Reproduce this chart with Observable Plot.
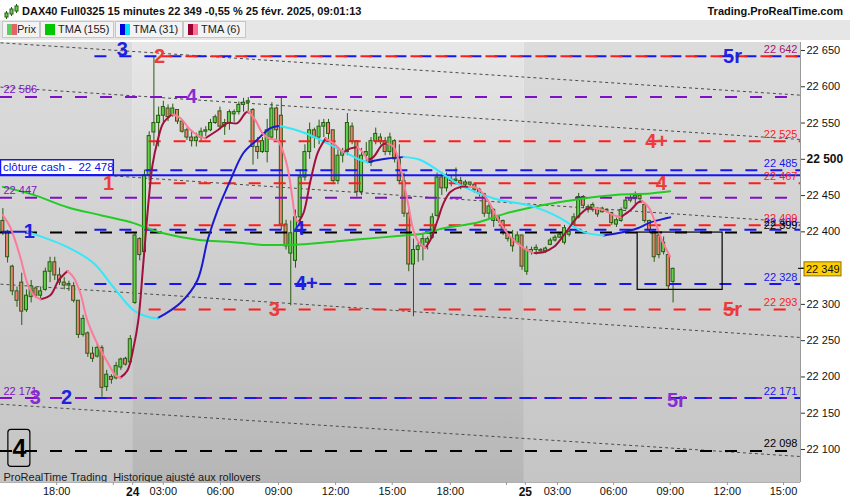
<!DOCTYPE html>
<html>
<head>
<meta charset="utf-8">
<script src="https://cdn.jsdelivr.net/npm/d3@7"></script>
<script src="https://cdn.jsdelivr.net/npm/@observablehq/plot@0.6"></script>
<style>
  body { margin: 0; background: #fff; font-family: "Liberation Sans", Arial, sans-serif; }
  #page { width: 850px; height: 500px; position: relative; overflow: hidden; }
  #top { height: 20px; position: relative; background: #fff; }
  #top .titre { position: absolute; left: 22px; top: 0; line-height: 22px; font-size: 11px; font-weight: bold; color: #111; }
  #top .site { position: absolute; right: 7px; top: 0; line-height: 22px; font-size: 11px; font-weight: bold; color: #111; }
  #top svg { position: absolute; left: 3px; top: 2px; }
  #leg { height: 20px; background: #e6e6e6; position: relative; }
  #leg .item { position: absolute; top: 1px; height: 17px; background: #f3f3f3; border: 1px solid #c6c6c6;
               box-sizing: border-box; font-size: 11px; color: #222; line-height: 15px; }
  #leg .sw { position: absolute; left: 4px; top: 2px; width: 10px; height: 11px; }
  #leg .lb { position: absolute; left: 17px; top: 0; white-space: nowrap; }
  #chart svg text.pre { white-space: pre; }
</style>
</head>
<body>
<div id="page">
  <div id="top">
    <svg width="16" height="18">
      <g stroke="#2a5a14" stroke-width="1">
        <line x1="3.5" y1="9" x2="3.5" y2="17"/><line x1="8.5" y1="5" x2="8.5" y2="14"/><line x1="13.5" y1="2" x2="13.5" y2="11"/>
      </g>
      <g fill="#5fd34a" stroke="#2a5a14" stroke-width="1">
        <rect x="2" y="11" width="3" height="4"/><rect x="7" y="7" width="3" height="5"/><rect x="12" y="4" width="3" height="5"/>
      </g>
    </svg>
    <span class="titre">DAX40 Full0325 15 minutes 22 349 -0,55 % 25 févr. 2025, 09:01:13</span>
    <span class="site">Trading.ProRealTime.com</span>
  </div>
  <div id="leg">
    <div class="item" style="left:2px;width:38px"><div class="sw" style="background:linear-gradient(to right,#5fcc5f 50%,#e06464 50%)"></div><span class="lb" style="left:14px">Prix</span></div>
    <div class="item" style="left:40px;width:74px"><div class="sw" style="background:#00c800"></div><span class="lb">TMA (155)</span></div>
    <div class="item" style="left:115px;width:68px"><div class="sw" style="background:linear-gradient(to right,#0000dd 50%,#00e0ff 50%)"></div><span class="lb">TMA (31)</span></div>
    <div class="item" style="left:183px;width:63px"><div class="sw" style="background:linear-gradient(to right,#990033 50%,#ff6f93 50%)"></div><span class="lb">TMA (6)</span></div>
  </div>
  <div id="chart"></div>
</div>
<script>
// DAX40 Full0325, bougies 15 minutes : ven. 21 (15:00) -> mar. 25 févr. (09:00)
// index = numéro de bougie (les heures sans cotation sont sautées)
const opens = [
  22415,22400,22352,22318,22330,22292,22310,22322,22312,22320,22345,22358,22340,22330,22326,22325,22305,22258,22260,22232,22228,22240,22186,22200,22198,22213,22225,22220,
  22302,22390,22372,22478,22537,22550,22560,22570,22560,22568,22552,22540,22530,22525,22530,22538,22540,22550,22566,22545,22550,22562,22565,22575,22578,22568,22517,22510,
  22510,22530,22570,22560,22410,22370,22360,22420,22475,22510,22540,22530,22545,22550,22540,22470,22505,22510,22545,22525,22455,22505,22495,22525,22530,22525,22510,22525,
  22500,22470,22425,22355,22375,22380,22385,22392,22422,22475,22460,22470,22472,22470,22465,22468,22465,22458,22452,22425,22430,22415,22415,22400,22390,22385,22395,
  22345,22372,22375,22375,22373,22382,22388,22392,22385,22396,22410,22420,22448,22430,22430,22432,22427,22428,22426,22410,22415,22432,22443,22445,22450,22437,22415,22400,
  22395,22372,22368,22331
];
const highs = [
  22432,22402,22354,22324,22343,22320,22333,22324,22324,22350,22365,22365,22350,22337,22332,22330,22305,22285,22262,22241,22246,22243,22209,22203,22220,22226,22227,22257,
  22398,22392,22485,22538,22642,22572,22580,22575,22576,22568,22552,22543,22540,22536,22543,22545,22555,22561,22572,22555,22568,22568,22579,22584,22585,22570,22530,22530,
  22555,22578,22572,22584,22416,22415,22430,22485,22520,22550,22543,22554,22555,22555,22540,22513,22515,22563,22550,22525,22515,22523,22530,22543,22535,22530,22536,22527,
  22520,22481,22434,22390,22385,22398,22393,22425,22481,22482,22481,22478,22488,22475,22471,22468,22467,22460,22453,22440,22432,22423,22416,22400,22402,22400,22395,
  22380,22379,22382,22377,22379,22391,22395,22398,22409,22402,22425,22453,22450,22437,22440,22433,22434,22432,22427,22419,22433,22446,22451,22455,22453,22440,22416,22400,
  22398,22393,22370,22350
];
const lows = [
  22395,22357,22312,22296,22271,22289,22302,22308,22306,22318,22330,22333,22326,22320,22318,22302,22253,22255,22227,22220,22226,22172,22180,22190,22196,22209,22215,22218,
  22300,22360,22368,22470,22518,22517,22550,22552,22558,22548,22536,22526,22517,22517,22524,22531,22538,22548,22540,22533,22540,22551,22561,22565,22562,22492,22500,22508,
  22495,22526,22526,22402,22375,22298,22350,22410,22470,22500,22515,22520,22530,22525,22465,22465,22495,22505,22520,22448,22450,22495,22490,22520,22520,22505,22505,22495,
  22465,22420,22345,22283,22358,22360,22375,22390,22420,22450,22455,22462,22465,22458,22462,22462,22453,22448,22420,22418,22406,22412,22395,22386,22372,22385,22347,
  22340,22368,22368,22370,22370,22381,22386,22391,22382,22393,22408,22418,22432,22426,22427,22420,22426,22426,22409,22406,22413,22430,22440,22437,22441,22412,22398,22358,
  22363,22368,22320,22302
];
const closes = [
  22400,22365,22318,22305,22290,22312,22325,22312,22318,22345,22358,22340,22330,22326,22328,22305,22258,22280,22232,22225,22240,22185,22203,22196,22215,22224,22217,22252,
  22395,22368,22478,22532,22550,22560,22572,22558,22570,22552,22538,22530,22525,22530,22538,22540,22550,22558,22545,22550,22565,22565,22575,22578,22580,22517,22510,22525,
  22540,22570,22540,22410,22380,22398,22420,22475,22510,22540,22530,22545,22550,22535,22470,22505,22510,22550,22525,22455,22505,22510,22525,22535,22525,22510,22530,22500,
  22470,22425,22355,22375,22380,22390,22390,22420,22475,22460,22475,22472,22470,22465,22468,22465,22458,22452,22425,22435,22415,22420,22400,22390,22380,22395,22352,
  22375,22375,22378,22373,22377,22388,22392,22396,22405,22400,22420,22448,22436,22434,22437,22424,22432,22430,22412,22416,22430,22443,22446,22450,22445,22415,22402,22365,
  22368,22385,22325,22349
];

// moyennes TMA (numéro de bougie, niveau)
const tma155Slot = [0,6.5,13.7,20.7,27.7,30.6,34,41.2,48.2,55.2,58.8,63.7,70.9,77.9,84.9,88.5,93.4,100.6,107.5,114.5,118.1,123,130.2,137.2,141.4];
const tma155 = [22462,22451,22434,22423,22412,22405,22398,22389,22386,22382,22382,22383,22387,22391,22395,22397,22405,22413,22427,22437,22441,22446,22451,22453,22456];
const tma31Slot = [0,5.2,13.7,19.2,23.4,27.7,31.3,32.8,37.6,41.2,43.4,45.5,48.2,51,53.9,56.7,58.8,63.7,70.9,75.8,77.3,81.5,84.9,88.5,97,104,111.2,114.5,118.1,123,127.3,130.2,134.5,137.2,141.4];
const tma31 = [22400,22400,22379,22357,22324,22292,22282,22281,22302,22333,22389,22430,22471,22509,22527,22543,22546,22537,22515,22499,22496,22501,22503,22499,22464,22446,22437,22430,22419,22400,22395,22398,22405,22413,22420];
const tma6Slot = [0,1.6,3.7,5.2,6.5,8,10.1,11.8,13.7,15,16.4,17.9,20,22.2,23.9,24.9,26.4,27.7,28.7,29.8,
  30.9,31.7,32.8,34,35.9,37.6,39.8,41.9,42.9,45.5,47.6,49.7,51.4,52,53.5,55,56.3,58.2,58.8,60.3,
  61.4,62,62.6,63.7,65.2,66.7,68.4,70.1,71.5,72.2,73.7,75.1,76.2,77.3,78.5,80.4,81.5,82.8,84.2,85.7,
  87,88.1,89.5,90.6,92.1,93.4,94.8,97,98.7,100.6,102.7,104.8,107.5,110.3,112.4,114.5,116.7,118.8,121.7,124.1,
  125.1,127.3,129.4,130.9,133,134.7,135.5,136.8,138.3,139.8,141.4];
const tma6 = [22423,22406,22365,22329,22313,22307,22313,22333,22346,22337,22316,22278,22246,22220,22202,22199,22209,22241,22278,22360,
  22444,22492,22526,22550,22562,22557,22540,22531,22529,22540,22550,22550,22564,22566,22554,22536,22529,22526,22520,22489,
  22444,22419,22413,22426,22471,22509,22529,22522,22513,22510,22515,22517,22510,22499,22503,22520,22522,22517,22489,22444,
  22402,22386,22378,22389,22416,22440,22455,22462,22462,22460,22444,22419,22393,22378,22371,22372,22379,22395,22420,22433,
  22433,22430,22423,22420,22430,22441,22442,22434,22412,22386,22366];

// séances (bornes en numéro de bougie)
const sessionStart = [-0.5, 27.5, 110.5];
const sessionEnd = [27.5, 110.5, 169];
const sessionKind = ["clair", "fonce", "clair"];

// niveaux horizontaux
const levelPrice = [22642, 22642, 22586, 22525, 22485, 22467, 22447, 22403, 22409, 22399, 22328, 22293, 22171, 22171, 22098];
const levelKind = ["bleu","rouge","violet","rouge","bleu","rouge","violet","bleu","rouge","noir","bleu","rouge","violet","bleu","noir"];
const levelFrom = [19.5, 33.5, -0.5, 31, 25, 31, -0.5, 19.5, 31, -0.5, 19.5, 31, -0.5, 19.5, -0.5];
const clotureCash = 22478;

const rightPrice = [22642, 22525, 22485, 22467, 22403, 22409, 22399, 22328, 22293, 22171, 22098];
const rightKind = ["mixte","rouge","bleu","rouge","bleu","rouge","noir","bleu","rouge","bleu","noir"];
const leftPrice = [22586, 22447, 22171];

// repères numérotés
const tagText = ["3","2","5r","4","4+","1","4","1","4","4+","3","5r","3","2","5r"];
const tagSlot = [25.3,33.2,154.6,40,138.5,22.4,139.5,5.6,62.8,64.3,57.5,154.6,6.9,13.5,142.7];
const tagPrice = [22651,22642,22642,22586,22525,22467,22467,22401,22405,22328,22293,22293,22171,22171,22168];
const tagKind = ["bleu","rouge","bleu","violet","rouge","rouge","rouge","bleu","bleu","bleu","rouge","rouge","violet","bleu","violet"];
const boxTag = {text: "4", slot: 3.5, price: 22098};

// canaux baissiers pointillés (niveau au bord gauche, au bord droit)
const chanLeft = [22660.6, 22599.5, 22487.6, 22327.9, 22162.4];
const chanRight = [22588.4, 22527.3, 22413.0, 22254.4, 22090.3];

// cadre de zoom
const zone = {x1: 134.5, x2: 152.5, top: 22399, bottom: 22320};

// axes
const yTicks = [22100,22150,22200,22250,22300,22350,22400,22450,22500,22550,22600,22650];
const xTickSlot = [11.4,23.4,27.5,34,46.1,58.4,70.5,82.5,94.8,106.7,110.7,117.5,129.4,141.4,153.5,165.4];
const xTickLabel = ["18:00","","24","03:00","06:00","09:00","12:00","15:00","18:00","","25","03:00","06:00","09:00","12:00","15:00"];
const lastPrice = 22349;

const xMin = -0.5, xMax = 169, yMin = 22054.5, yMax = 22661;
const FONT = "Liberation Sans, Arial, sans-serif";
const col = {bleu: "#1616f0", rouge: "#ff1c1c", violet: "#8010c8", noir: "#000", mixte: "#a0186a"};
const tagCol = {bleu: "#2020e0", rouge: "#ec3c3c", violet: "#8a2bd0", noir: "#000"};
const WICK = "#2a5a14", UP = "#5fd34a", DOWN = "#f08070";

const fmt = d => d3.format(",")(d).replace(/,/g, " ");
const tickMap = new Map(xTickSlot.map((s, i) => [s, xTickLabel[i]]));

const bars = opens.map((o, i) => ({i, o, h: highs[i], l: lows[i], c: closes[i]}));
const sessions = sessionStart.map((s, i) => ({x1: s, x2: sessionEnd[i], kind: sessionKind[i]}));
const levels = levelPrice.map((p, i) => ({price: p, kind: levelKind[i], from: levelFrom[i]}));
const rightLabels = rightPrice.map((p, i) => ({price: p, kind: rightKind[i], text: fmt(p)}));
const leftLabels = leftPrice.map(p => ({price: p, text: fmt(p)}));
const tags = tagText.map((t, i) => ({text: t, slot: tagSlot[i], price: tagPrice[i], kind: tagKind[i]}));
const channels = chanLeft.map((a, i) => ({a, b: chanRight[i]}));

// découpe une courbe en tronçons montants / descendants (couleur selon la pente)
function runs(xs, ys) {
  const out = [];
  let run = 0, prev = null;
  for (let i = 0; i < xs.length - 1; i++) {
    const dir = ys[i + 1] >= ys[i] ? "up" : "down";
    if (dir !== prev) { run++; prev = dir; out.push({x: xs[i], y: ys[i], run, dir}); }
    out.push({x: xs[i + 1], y: ys[i + 1], run, dir});
  }
  return out;
}
const r31 = runs(tma31Slot, tma31);
const r6 = runs(tma6Slot, tma6);

const levelMarks = [];
for (const k of ["violet", "noir", "bleu", "rouge"]) {
  levelMarks.push(Plot.ruleY(levels.filter(d => d.kind === k), {
    y: "price", x1: "from", x2: xMax, stroke: col[k], strokeWidth: 2, strokeDasharray: "12,13"
  }));
}
const rightMarks = Object.keys(col).map(k => Plot.text(rightLabels.filter(d => d.kind === k), {
  y: "price", text: "text", frameAnchor: "right", textAnchor: "end", dx: -3, dy: -7, fill: col[k], fontSize: 11
}));
const tagMarks = Object.keys(tagCol).map(k => Plot.text(tags.filter(d => d.kind === k), {
  x: "slot", y: "price", text: "text", fill: tagCol[k], fontSize: 20, fontWeight: "bold"
}));
const trend = (data, colUp, colDown) => ["up", "down"].map(dir => Plot.line(data.filter(d => d.dir === dir), {
  x: "x", y: "y", z: "run", stroke: dir === "up" ? colUp : colDown, strokeWidth: 2, curve: "catmull-rom"
}));

const chart = Plot.plot({
  width: 850,
  height: 460,
  marginTop: 2,
  marginBottom: 18,
  marginLeft: 0,
  marginRight: 50,
  x: {domain: [xMin, xMax]},
  y: {domain: [yMin, yMax]},
  style: {fontFamily: FONT, fontSize: "11px", background: "#fff", overflow: "visible"},
  marks: [
    Plot.rect(sessions.filter(d => d.kind === "clair"), {x1: "x1", x2: "x2", y1: yMin, y2: yMax, fill: "url(#fondClair)"}),
    Plot.rect(sessions.filter(d => d.kind === "fonce"), {x1: "x1", x2: "x2", y1: yMin, y2: yMax, fill: "url(#fondFonce)"}),
    Plot.link(channels, {x1: xMin, x2: xMax, y1: "a", y2: "b", stroke: "#4a4a4a", strokeWidth: 1, strokeDasharray: "3,3"}),
    Plot.ruleX(bars, {x: "i", y1: "l", y2: "h", stroke: WICK, strokeWidth: 1}),
    Plot.rect(bars.filter(d => d.c >= d.o), {x1: d => d.i - 0.32, x2: d => d.i + 0.32, y1: "o", y2: "c", fill: UP, stroke: WICK, strokeWidth: 1}),
    Plot.rect(bars.filter(d => d.c < d.o), {x1: d => d.i - 0.32, x2: d => d.i + 0.32, y1: "o", y2: "c", fill: DOWN, stroke: WICK, strokeWidth: 1}),
    ...levelMarks,
    Plot.ruleY([clotureCash], {x1: xMin, x2: xMax, stroke: col.bleu, strokeWidth: 2}),
    Plot.line(tma155Slot.map((s, i) => ({x: s, y: tma155[i]})), {x: "x", y: "y", stroke: "#22cc22", strokeWidth: 2, curve: "catmull-rom"}),
    ...trend(r31, "#1a1ad0", "#33e8f8"),
    ...trend(r6, "#a0103c", "#ff7a9a"),
    Plot.rect([zone], {x1: "x1", x2: "x2", y1: "bottom", y2: "top", fill: "none", stroke: "#000", strokeWidth: 1.2}),
    ...rightMarks,
    Plot.text(leftLabels, {y: "price", text: "text", frameAnchor: "left", textAnchor: "start", dx: 3, dy: -7, fill: col.violet, fontSize: 11}),
    ...tagMarks,
    Plot.text([boxTag], {x: "slot", y: "price", text: "text", fill: "#000", fontSize: 25, fontWeight: "bold", dy: -2}),
    Plot.text(["ProRealTime Trading  Historique ajusté aux rollovers"], {frameAnchor: "bottom-left", dx: 3, dy: -2, fill: "#1a1a1a", fontSize: 11}),
    Plot.ruleX([xMax], {stroke: "#9a9a9a"}),
    Plot.ruleY([yMin], {stroke: "#b0b0b0"}),
    Plot.axisX({anchor: "bottom", ticks: xTickSlot, tickFormat: d => tickMap.get(d), tickSize: 3, tickPadding: 2, fontSize: 11, stroke: "#999", fill: "#111"}),
    Plot.axisY({anchor: "right", ticks: yTicks, tickFormat: fmt, tickSize: 4, tickPadding: 2, fontSize: 11, stroke: "#333", fill: "#111"})
  ]
});

const svg = d3.select(chart);
const xs = chart.scale("x"), ys = chart.scale("y");

// dégradés de fond
const defs = svg.insert("defs", ":first-child");
const grad = (id, c0, c1) => {
  const g = defs.append("linearGradient").attr("id", id).attr("x1", 0).attr("y1", 0).attr("x2", 0).attr("y2", 1);
  g.append("stop").attr("offset", "0%").attr("stop-color", c0);
  g.append("stop").attr("offset", "100%").attr("stop-color", c1);
};
grad("fondClair", "#dcdcdc", "#c5c5c5");
grad("fondFonce", "#e7e7e7", "#b6b6b6");

// libellés en gras
svg.selectAll("text").each(function () {
  const t = d3.select(this);
  if (t.text() === "24" || t.text() === "25") t.attr("font-weight", "bold").attr("font-size", 12);
  if (t.text() === "22 500") t.attr("font-weight", "bold").attr("font-size", 12);
});

// étiquette clôture cash
const yc = ys.apply(clotureCash);
svg.append("rect").attr("x", 0.5).attr("y", yc - 15).attr("width", xs.apply(23.4)).attr("height", 15)
  .attr("fill", "#fff").attr("stroke", col.bleu).attr("stroke-width", 1.5);
svg.append("text").attr("class", "pre").attr("x", 3).attr("y", yc - 3.5).attr("text-anchor", "start")
  .attr("fill", "#1010e8").attr("font-size", 11.5).attr("font-family", FONT)
  .text("clôture cash -  " + fmt(clotureCash));

// cadre du repère 4
const bx = xs.apply(boxTag.slot), by = ys.apply(boxTag.price);
svg.append("rect").attr("x", bx - 11).attr("y", by - 21).attr("width", 22).attr("height", 37)
  .attr("rx", 3).attr("fill", "none").attr("stroke", "#000").attr("stroke-width", 1.2);

// dernier cours
const yl = ys.apply(lastPrice);
svg.append("line").attr("x1", 798).attr("x2", 804).attr("y1", yl).attr("y2", yl).attr("stroke", "#000");
svg.append("rect").attr("x", 804).attr("y", yl - 6.5).attr("width", 37).attr("height", 14)
  .attr("fill", "#ffd000").attr("stroke", "#8a7000").attr("stroke-width", 1);
svg.append("text").attr("x", 806).attr("y", yl + 4.5).attr("text-anchor", "start").attr("font-size", 11).attr("font-family", FONT)
  .attr("fill", "#111").text(fmt(lastPrice));

d3.select("#chart").append(() => chart);
</script>
</body>
</html>
